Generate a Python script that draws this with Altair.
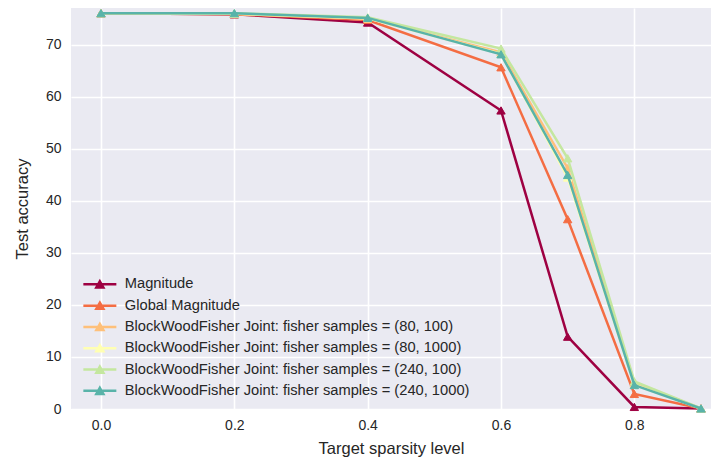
import altair as alt
import pandas as pd

sparsity = [0.0, 0.2, 0.4, 0.6, 0.7, 0.8, 0.9]

series_names = [
    "Magnitude",
    "Global Magnitude",
    "BlockWoodFisher Joint: fisher samples = (80, 100)",
    "BlockWoodFisher Joint: fisher samples = (80, 1000)",
    "BlockWoodFisher Joint: fisher samples = (240, 100)",
    "BlockWoodFisher Joint: fisher samples = (240, 1000)",
]

magnitude = [76.1, 75.9, 74.3, 57.4, 13.9, 0.4, 0.1]
global_magnitude = [76.1, 75.9, 74.8, 65.7, 36.5, 2.9, 0.1]
bwf_80_100 = [76.1, 76.0, 75.1, 68.6, 46.3, 5.0, 0.1]
bwf_80_1000 = [76.1, 76.0, 75.1, 68.3, 44.5, 4.7, 0.1]
bwf_240_100 = [76.1, 76.1, 75.3, 69.3, 48.2, 5.3, 0.1]
bwf_240_1000 = [76.1, 76.1, 75.2, 68.2, 45.0, 4.6, 0.1]

series_values = [magnitude, global_magnitude, bwf_80_100, bwf_80_1000, bwf_240_100, bwf_240_1000]

colors = ["#9e0142", "#f46d43", "#fec07a", "#ffffb2", "#c4e79f", "#59b3a9"]

y_ticks = [0, 10, 20, 30, 40, 50, 60, 70]
x_ticks = [0.0, 0.2, 0.4, 0.6, 0.8]

rows = []
for name, vals in zip(series_names, series_values):
    for xv, yv in zip(sparsity, vals):
        rows.append({"series": name, "sparsity": xv, "accuracy": yv})
df = pd.DataFrame(rows)

FONT = "Liberation Sans"
TXT = "#262626"

x_enc = alt.X(
    "sparsity:Q",
    scale=alt.Scale(domain=[-0.045, 0.915], nice=False, zero=False),
    axis=alt.Axis(values=x_ticks, format=".1f", title="Target sparsity level",
                  labelPadding=9, titlePadding=8, titleFontSize=16.5),
)
y_enc = alt.Y(
    "accuracy:Q",
    scale=alt.Scale(domain=[0, 77.1], nice=False, zero=False),
    axis=alt.Axis(values=y_ticks, title="Test accuracy",
                  labelPadding=10, titlePadding=15, titleFontSize=16.5),
)

legend_path = "M-3.3,0H3.3M0,-0.6L0.7,0.62L-0.7,0.62Z"
leg = alt.Legend(
    title=None,
    orient="none",
    legendX=21.5,
    legendY=269,
    padding=0,
    symbolType=legend_path,
    symbolSize=100,
    symbolStrokeWidth=2.5,
    symbolOpacity=1,
    labelFontSize=14.7,
    labelFont=FONT,
    labelColor=TXT,
    labelOffset=17.6,
    labelLimit=0,
    rowPadding=4.3,
)

stroke_scale = alt.Scale(domain=series_names, range=colors)

layers = []
for name in series_names:
    base = alt.Chart(df).transform_filter(alt.datum.series == name)
    line = base.mark_line(strokeWidth=2.5, clip=False).encode(
        x=x_enc, y=y_enc,
        stroke=alt.Stroke("series:N", scale=stroke_scale, legend=leg),
    )
    pts = base.mark_point(shape="triangle-up", filled=True, size=70, strokeWidth=1, opacity=1).encode(
        x=x_enc, y=y_enc,
        fill=alt.Fill("series:N", scale=stroke_scale, legend=leg),
        stroke=alt.Stroke("series:N", scale=stroke_scale, legend=leg),
    )
    layers += [line, pts]

chart = alt.layer(*layers).properties(
    width=640,
    height=401,
    autosize=alt.AutoSizeParams(type="none"),
    padding={"left": 63, "top": 0, "right": 0, "bottom": 48},
    background="white",
).configure_view(
    fill="#EAEAF2", stroke=None
).configure_axis(
    domain=False, ticks=False, grid=True, gridColor="white", gridWidth=1.6,
    labelFont=FONT, labelFontSize=14, labelColor=TXT,
    titleFont=FONT, titleColor=TXT, titleFontWeight="normal",
)

chart.save("out.html", embed_options={"renderer": "svg", "actions": False})
